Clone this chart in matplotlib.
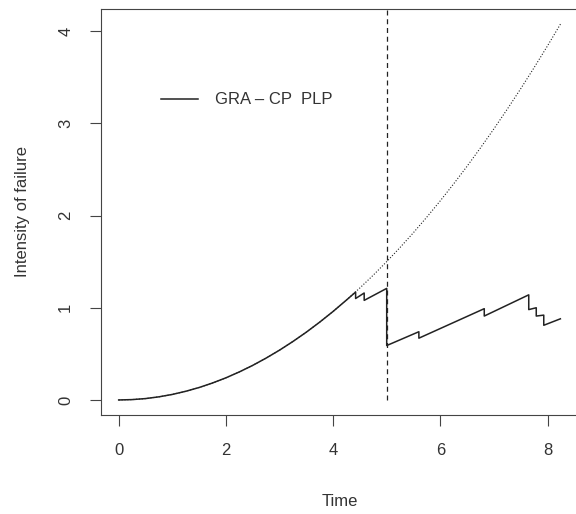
import matplotlib
matplotlib.use("Agg")
import matplotlib.pyplot as plt
import numpy as np

plt.rcParams['font.family'] = ['Liberation Sans', 'DejaVu Sans']

# Power-law process intensity (no repair effect)
time_grid = [0.0, 0.25, 0.5, 0.75, 1.0, 1.25, 1.5, 1.75, 2.0, 2.25, 2.5, 2.75,
             3.0, 3.25, 3.5, 3.75, 4.0, 4.25, 4.5, 4.75, 5.0, 5.25, 5.5, 5.75,
             6.0, 6.25, 6.5, 6.75, 7.0, 7.25, 7.5, 7.75, 8.0, 8.25]
plp_intensity = [0.0, 0.004, 0.015, 0.034, 0.06, 0.094, 0.135, 0.184, 0.24,
                 0.304, 0.375, 0.454, 0.54, 0.634, 0.735, 0.844, 0.96, 1.084,
                 1.215, 1.354, 1.5, 1.654, 1.815, 1.984, 2.16, 2.344, 2.535,
                 2.734, 2.94, 3.154, 3.375, 3.604, 3.84, 4.084]

# GRA-CP intensity after the first failure (drops at each repair)
gra_time = [4.42, 4.42, 4.58, 4.58, 5.0, 5.0, 5.6, 5.6, 6.82, 6.82, 7.65,
            7.65, 7.79, 7.79, 7.93, 7.93, 8.24]
gra_intensity = [1.17, 1.10, 1.16, 1.08, 1.21, 0.59, 0.74, 0.67, 0.99, 0.91,
                 1.14, 0.98, 1.00, 0.91, 0.92, 0.81, 0.88]

change_point = 5.0
legend_label = "GRA \u2013 CP  PLP"

W, H = 576, 514
fig = plt.figure(figsize=(W / 100, H / 100), dpi=100)
ax = fig.add_axes([101 / W, 1 - 415 / H, 477.6 / W, 406.5 / H])

tg = np.array(time_grid)
pi = np.array(plp_intensity)
before = tg < gra_time[0]
solid_t = np.concatenate([tg[before], gra_time])
solid_y = np.concatenate([pi[before], gra_intensity])

ink = "#222222"
ax.plot(time_grid, plp_intensity, linestyle=(0, (1, 1.6)), color=ink, lw=0.8)
ax.plot(solid_t, solid_y, color=ink, lw=1.1, label=legend_label)
ax.plot([change_point, change_point], [0, 4.5], linestyle=(0, (4, 3)),
        color=ink, lw=0.9)

ax.set_xlim(-0.33, 8.58)
ax.set_ylim(-0.163, 4.245)
ax.set_xticks([0, 2, 4, 6, 8])
ax.set_yticks([0, 1, 2, 3, 4])
ax.tick_params(axis='both', direction='out', length=8, width=0.8,
               color="#444444", labelsize=12, labelcolor="#333333", pad=12)
for lab in ax.get_yticklabels():
    lab.set_rotation(90)
    lab.set_va('center')
for s in ax.spines.values():
    s.set_color("#444444")
    s.set_linewidth(0.8)

ax.set_xlabel("Time", fontsize=12, color="#333333", labelpad=26)
ax.set_ylabel("Intensity of failure", fontsize=12, color="#333333", labelpad=20)

leg = ax.legend(loc='center left', bbox_to_anchor=(0.095, 0.775), frameon=False,
                fontsize=12, handlelength=2.2, handletextpad=1.0)
for t in leg.get_texts():
    t.set_color("#333333")

fig.savefig("out.png", dpi=100)
